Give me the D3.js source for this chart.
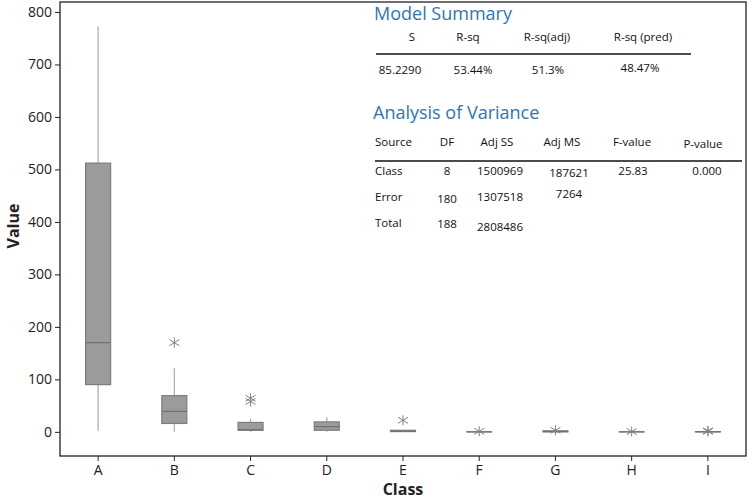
<!DOCTYPE html>
<html>
<head>
<meta charset="utf-8">
<script src="https://cdn.jsdelivr.net/npm/d3@7"></script>
<style>
  html, body { margin: 0; padding: 0; background: #fff; }
  svg { display: block; font-family: "Open Sans", "Noto Sans", sans-serif; }
</style>
</head>
<body>
<svg id="chart" width="749" height="500"></svg>
<script>
// ---------------- DATA ----------------
const categories = ["A", "B", "C", "D", "E", "F", "G", "H", "I"];
const whiskerLow  = [2,   0,   0,   0,   0,   0,   0,   0,   0];
const q1Values    = [90,  16,  3,   3,   0.5, 0,   0,   0,   0];
const medians     = [170, 39,  4,   10,  1,   0,   0.5, 0,   0];
const q3Values    = [512, 69,  18,  19,  3,   0,   2,   0,   0.5];
const whiskerHigh = [773, 121, 25,  28,  3,   0,   2,   0,   0.5];
const outliers    = [[], [170], [58, 64], [], [22], [1], [3], [0.5], [1, 2]];
const yTicks = [0, 100, 200, 300, 400, 500, 600, 700, 800];

const modelTitle = "Model Summary";
const modelHeaders = ["S", "R-sq", "R-sq(adj)", "R-sq (pred)"];
const modelValues = ["85.2290", "53.44%", "51.3%", "48.47%"];

const anovaTitle = "Analysis of Variance";
const anovaHeaders = ["Source", "DF", "Adj SS", "Adj MS", "F-value", "P-value"];
const anovaRows = [
  ["Class", "8", "1500969", "187621", "25.83", "0.000"],
  ["Error", "180", "1307518", "7264"],
  ["Total", "188", "2808486"]
];

// ---------------- LAYOUT ----------------
const svg = d3.select("#chart");
const L = 60, R = 746, T = 2, B = 456;

const x = d3.scaleBand().domain(categories).range([L, R]).padding(0);
const y = d3.scaleLinear().domain([-46, 819]).range([B, T]);
const boxW = 25;

const boxes = categories.map((c, i) => ({
  c, lo: whiskerLow[i], q1: q1Values[i], med: medians[i], q3: q3Values[i], hi: whiskerHigh[i], out: outliers[i]
}));

const cx = d => x(d.c) + x.bandwidth() / 2;

// whiskers
const g = svg.append("g");
g.selectAll(".wh-up").data(boxes).join("line")
  .attr("x1", cx).attr("x2", cx)
  .attr("y1", d => y(d.q3)).attr("y2", d => y(d.hi))
  .attr("stroke", "#a8a8a8").attr("stroke-width", 1.2);
g.selectAll(".wh-lo").data(boxes).join("line")
  .attr("x1", cx).attr("x2", cx)
  .attr("y1", d => y(d.q1)).attr("y2", d => y(d.lo))
  .attr("stroke", "#a8a8a8").attr("stroke-width", 1.2);

// boxes
g.selectAll(".box").data(boxes).join("rect")
  .attr("x", d => cx(d) - boxW / 2)
  .attr("width", boxW)
  .attr("y", d => y(d.q3))
  .attr("height", d => Math.max(0.01, y(d.q1) - y(d.q3)))
  .attr("fill", "#9b9b9b")
  .attr("stroke", "#7d7d7d")
  .attr("stroke-width", 1.2);

// medians
g.selectAll(".med").data(boxes).join("line")
  .attr("x1", d => cx(d) - boxW / 2).attr("x2", d => cx(d) + boxW / 2)
  .attr("y1", d => y(d.med)).attr("y2", d => y(d.med))
  .attr("stroke", "#707070").attr("stroke-width", 1.2);

// outliers (asterisks)
const outPts = [];
boxes.forEach(d => d.out.forEach(v => outPts.push({ c: d.c, v })));
const s = 5;
const starPath = `M0,${-s}L0,${s}M${-s},${-s*0.6}L${s},${s*0.6}M${-s},${s*0.6}L${s},${-s*0.6}`;
g.selectAll(".out").data(outPts).join("path")
  .attr("transform", d => `translate(${x(d.c) + x.bandwidth() / 2},${y(d.v)})`)
  .attr("d", starPath)
  .attr("fill", "none")
  .attr("stroke", "#808080")
  .attr("stroke-width", 1);

// axes
const yAxis = svg.append("g").attr("transform", `translate(${L},0)`)
  .call(d3.axisLeft(y).tickValues(yTicks).tickSize(5).tickPadding(3));
yAxis.select(".domain").remove();
yAxis.selectAll("text").attr("font-size", 14).attr("fill", "#222")
  .attr("font-family", "'Open Sans', sans-serif");
yAxis.selectAll("line").attr("stroke", "#222");

const xAxis = svg.append("g").attr("transform", `translate(0,${B})`)
  .call(d3.axisBottom(x).tickSize(5).tickPadding(4));
xAxis.select(".domain").remove();
xAxis.selectAll("text").attr("font-size", 14).attr("fill", "#222")
  .attr("font-family", "'Open Sans', sans-serif");
xAxis.selectAll("line").attr("stroke", "#222");

// frame
svg.append("rect").attr("x", L).attr("y", T).attr("width", R - L).attr("height", B - T)
  .attr("fill", "none").attr("stroke", "#222").attr("stroke-width", 1.3);

// axis titles
svg.append("text").attr("transform", "translate(19,226) rotate(-90)")
  .attr("text-anchor", "middle").attr("font-size", 16).attr("font-weight", "bold")
  .attr("fill", "#222").text("Value");
svg.append("text").attr("x", 403).attr("y", 495)
  .attr("text-anchor", "middle").attr("font-size", 16).attr("font-weight", "bold")
  .attr("fill", "#222").text("Class");

// ---------------- TABLES ----------------
const blue = "#2e75b6";
const tfs = 11.5;
const tbl = svg.append("g").attr("fill", "#111").attr("font-size", tfs);

svg.append("text").attr("x", 374).attr("y", 20).attr("font-size", 18)
  .attr("fill", blue).text(modelTitle);
const mHX = [412, 468, 547, 643];
const mVX = [400, 473, 548, 640];
const mVY = [74, 74, 74, 72];
tbl.selectAll(".mh").data(modelHeaders).join("text")
  .attr("x", (d, i) => mHX[i]).attr("y", 41).attr("text-anchor", "middle").text(d => d);
svg.append("line").attr("x1", 376).attr("x2", 691).attr("y1", 54).attr("y2", 54)
  .attr("stroke", "#111").attr("stroke-width", 1.3);
tbl.selectAll(".mv").data(modelValues).join("text")
  .attr("x", (d, i) => mVX[i]).attr("y", (d, i) => mVY[i]).attr("text-anchor", "middle").text(d => d);

svg.append("text").attr("x", 373).attr("y", 119).attr("font-size", 18)
  .attr("fill", blue).text(anovaTitle);
const aHX = [375, 447, 497, 562, 632, 703];
const aHY = [146, 146, 146, 146, 146, 148];
tbl.selectAll(".ah").data(anovaHeaders).join("text")
  .attr("x", (d, i) => aHX[i]).attr("y", (d, i) => aHY[i])
  .attr("text-anchor", (d, i) => i === 0 ? "start" : "middle").text(d => d);
svg.append("line").attr("x1", 375).attr("x2", 742).attr("y1", 161).attr("y2", 161)
  .attr("stroke", "#111").attr("stroke-width", 1.3);
const aCX = [375, 447, 500, 569, 633, 707];
const aRY = [[175, 175, 175, 177, 175, 175], [201, 203, 201, 198], [227, 228, 231]];
anovaRows.forEach((row, r) => {
  tbl.selectAll(".ar" + r).data(row).join("text")
    .attr("x", (d, i) => aCX[i]).attr("y", (d, i) => aRY[r][i])
    .attr("text-anchor", (d, i) => i === 0 ? "start" : "middle").text(d => d);
});
</script>
</body>
</html>
